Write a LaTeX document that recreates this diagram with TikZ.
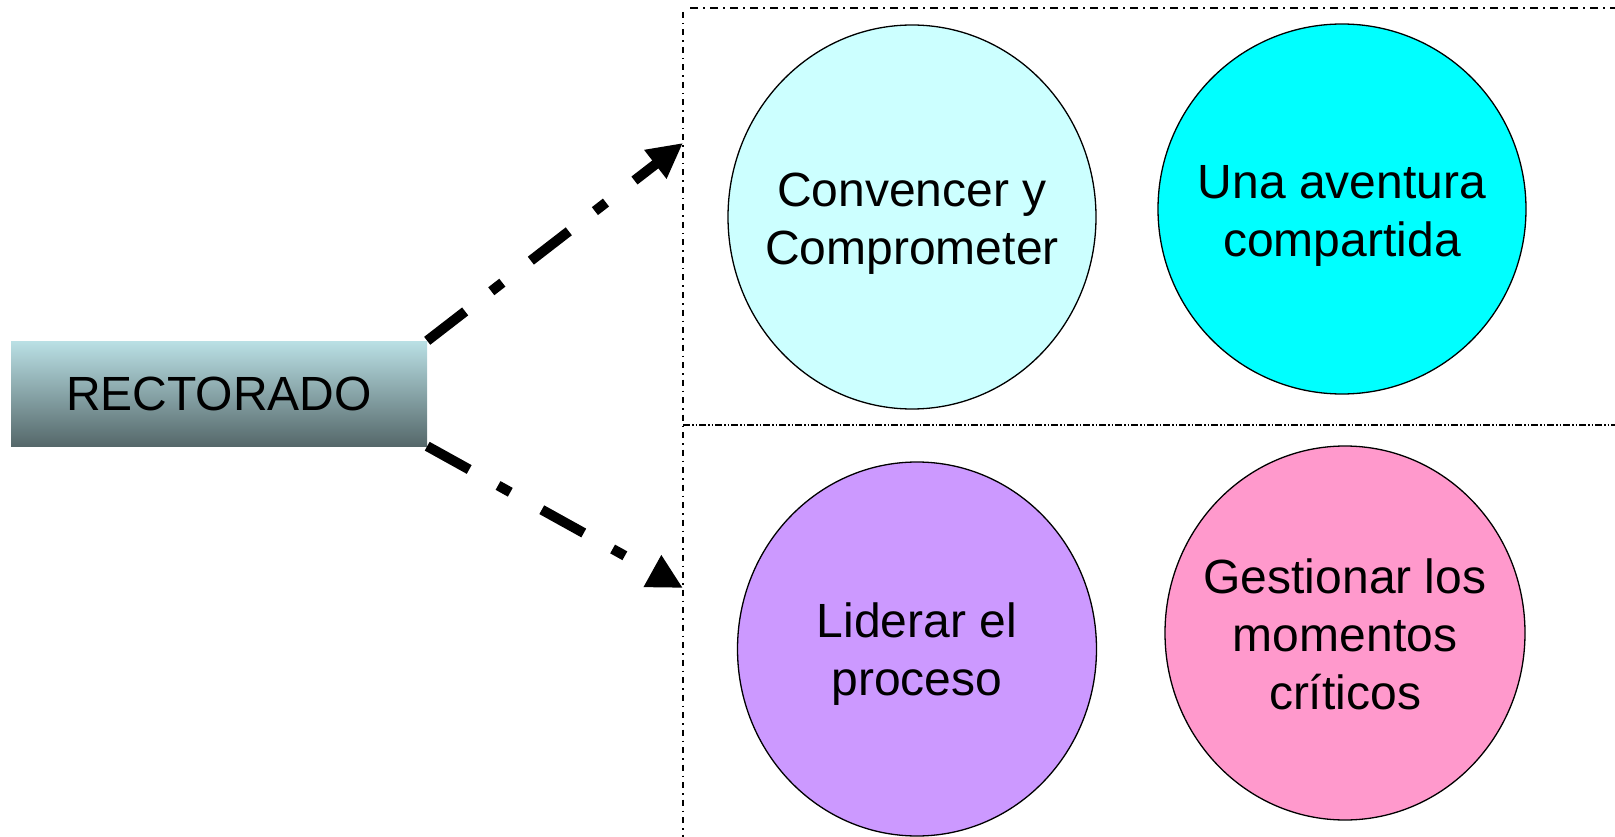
\documentclass[tikz,border=0pt]{standalone}
\usepackage{fontspec}
\setmainfont{Liberation Sans}
\usetikzlibrary{arrows.meta,shapes.geometric}
\definecolor{colA}{HTML}{CCFFFF}
\definecolor{colB}{HTML}{00FFFF}
\definecolor{colC}{HTML}{CC99FF}
\definecolor{colD}{HTML}{FF99CC}
\definecolor{boxtop}{RGB}{186,224,229}
\definecolor{boxbot}{RGB}{85,104,106}
\begin{document}
\begin{tikzpicture}[x=1pt,y=-1pt,
  bubble/.style={ellipse, draw=black, line width=1.3pt, inner sep=0pt},
  lbl/.style={font=\fontsize{48}{58}\selectfont, align=center, inner sep=0pt},
  framea/.style={line width=1.2pt, dash pattern=on 8pt off 5pt on 2pt off 5pt},
  frameb/.style={line width=1.2pt, dash pattern=on 7pt off 2pt on 1.5pt off 2pt on 1.5pt off 2pt},
  framev/.style={line width=1.2pt, dash pattern=on 6pt off 5pt on 1.5pt off 5pt},
  arr/.style={line width=10pt, dash pattern=on 48pt off 33pt on 14pt off 36pt,
    -{Triangle[length=35pt,width=34pt]}}]
\useasboundingbox (0,0) rectangle (1615,837);
% frame lines
\draw[framev] (683,12) -- (683,837);
\draw[framea] (690,8) -- (1615,8);
\draw[frameb] (683,425) -- (1615,425);
% box
\node[shade, top color=boxtop, bottom color=boxbot, minimum width=416pt,
  minimum height=105pt, inner sep=0pt, font=\fontsize{48}{58}\selectfont]
  (r) at (219,393.5) {RECTORADO};
% bubbles
\node[bubble, fill=colA, minimum width=368pt, minimum height=384pt] (c1) at (912,217) {};
\node[lbl, yshift=-7pt] (t1) at (c1.center) {Convencer y\\Comprometer};
\node[bubble, fill=colB, minimum width=368pt, minimum height=370pt] (c2) at (1342,209) {};
\node[lbl, yshift=-7pt] (t2) at (c2.center) {Una aventura\\compartida};
\node[bubble, fill=colC, minimum width=359pt, minimum height=374pt] (c3) at (917,649) {};
\node[lbl, yshift=-5pt] (t3) at (c3.center) {Liderar el\\proceso};
\node[bubble, fill=colD, minimum width=360pt, minimum height=374pt] (c4) at (1345,633) {};
\node[lbl, yshift=-1pt] (t4) at (c4.center) {Gestionar los\\momentos\\críticos};
% arrows
\coordinate (h1) at (683,143);
\coordinate (h2) at (683,588);
\draw[arr] (r.north east) -- (h1);
\draw[arr] (r.south east) -- (h2);
\end{tikzpicture}
\end{document}
